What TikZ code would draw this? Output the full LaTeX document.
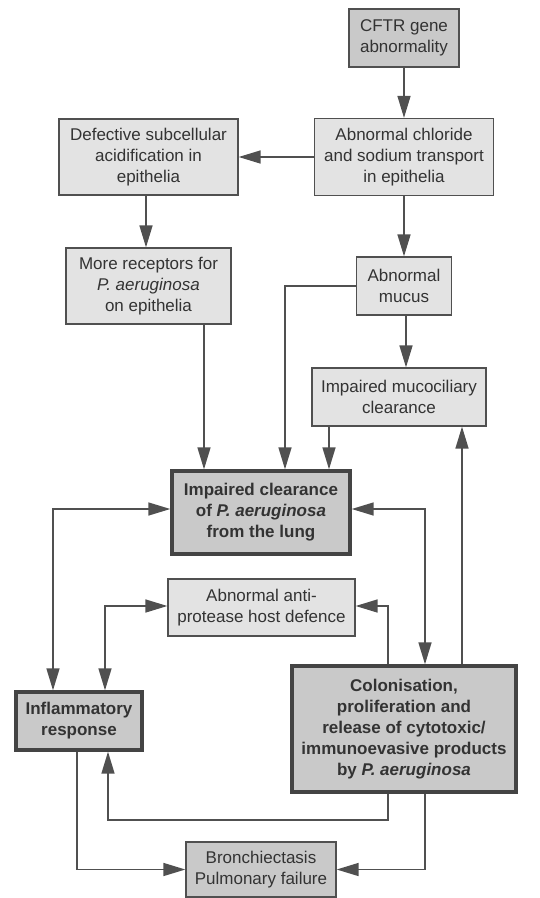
\documentclass[tikz,border=0pt]{standalone}
\usepackage{fontspec}
\setmainfont{Liberation Sans}
\usetikzlibrary{arrows.meta}
\definecolor{lightfill}{HTML}{E3E3E3}
\definecolor{darkfill}{HTML}{C9C9C9}
\definecolor{linecol}{HTML}{505050}
\definecolor{textcol}{HTML}{333333}
\tikzset{
  every node/.style={font=\fontsize{17}{21}\selectfont, text=textcol, align=center, inner sep=0pt},
  lightbox/.style={draw=linecol, line width=1.3pt, fill=lightfill, rectangle},
  darkbox/.style={draw=linecol, line width=1.3pt, fill=darkfill, rectangle},
  thickbox/.style={draw=linecol!85!black, line width=3.4pt, fill=darkfill, rectangle, font=\fontsize{17}{21}\selectfont\bfseries},
  arr/.style={draw=linecol, line width=1.5pt, -{Triangle[length=22pt,width=13pt]}},
  arrtwo/.style={draw=linecol, line width=1.5pt, {Triangle[length=22pt,width=13pt]}-{Triangle[length=22pt,width=13pt]}},
}
\begin{document}
\begin{tikzpicture}[x=1pt,y=-1pt]
\useasboundingbox[fill=white] (0,0) rectangle (540,898);

\node[darkbox, minimum width=110pt, minimum height=58pt] (cftr) at (404,38) {CFTR gene\\abnormality};
\node[lightbox, minimum width=179pt, minimum height=77pt] (chl) at (404,157) {Abnormal chloride\\and sodium transport\\in epithelia};
\node[lightbox, minimum width=179pt, minimum height=76pt] (def) at (148.5,157) {Defective subcellular\\acidification in\\epithelia};
\node[lightbox, minimum width=165pt, minimum height=76pt] (rec) at (148.5,286) {More receptors for\\\textit{P. aeruginosa}\\on epithelia};
\node[lightbox, minimum width=95pt, minimum height=58pt] (muc) at (404,286) {Abnormal\\mucus};
\node[lightbox, minimum width=174pt, minimum height=58pt] (mci) at (399,397) {Impaired mucociliary\\clearance};
\node[thickbox, minimum width=178pt, minimum height=83pt] (clr) at (261,512.5) {Impaired clearance\\of \textit{P. aeruginosa}\\from the lung};
\node[lightbox, minimum width=187pt, minimum height=57pt] (anti) at (261.5,607.5) {Abnormal anti-\\protease host defence};
\node[thickbox, minimum width=126pt, minimum height=58pt] (inf) at (79,721) {Inflammatory\\response};
\node[thickbox, minimum width=224pt, minimum height=126pt] (col) at (404,729) {Colonisation,\\proliferation and\\release of cytotoxic/\\immunoevasive products\\by \textit{P. aeruginosa}};
\node[darkbox, minimum width=150pt, minimum height=55pt] (bro) at (261,869.5) {Bronchiectasis\\Pulmonary failure};

% connectors
\draw[arr] (cftr.south) -- (chl.north);
\draw[arr] (chl.west) -- (def.east);
\draw[arr] ([xshift=-2.5pt]def.south) -- ([xshift=-2.5pt]rec.north);
\draw[arr] (chl.south) -- (muc.north);
\draw[arr] ([xshift=2pt]muc.south) -- ([xshift=2pt]muc.south |- mci.north);
\draw[arr] (muc.west) -| ([xshift=24pt]clr.north);
\draw[arr] ([xshift=55.5pt]rec.south) -- ([xshift=55.5pt]rec.south |- clr.north);
\draw[arr] ([xshift=-70pt]mci.south) -- ([xshift=-70pt]mci.south |- clr.north);
\draw[arrtwo] ([yshift=3.5pt]clr.west) -| ([xshift=-26pt]inf.north);
\draw[arrtwo] ([yshift=3.5pt]clr.east) -| ([xshift=21pt]col.north);
\draw[arr] ([xshift=58pt]col.north) -- ([xshift=58pt]col.north |- mci.south);
\draw[arrtwo] ([yshift=1.5pt]anti.west) -| ([xshift=26pt]inf.north);
\draw[arr] ([xshift=-16pt]col.north) |- ([yshift=1.5pt]anti.east);
\coordinate (loopc) at (0,820);
\draw[arr] ([xshift=-16pt]col.south) -- ([xshift=-16pt]col.south |- loopc) -| ([xshift=29pt]inf.south);
\draw[arr] ([xshift=-2pt]inf.south) |- (bro.west);
\draw[arr] ([xshift=21pt]col.south) |- (bro.east);
\end{tikzpicture}
\end{document}
